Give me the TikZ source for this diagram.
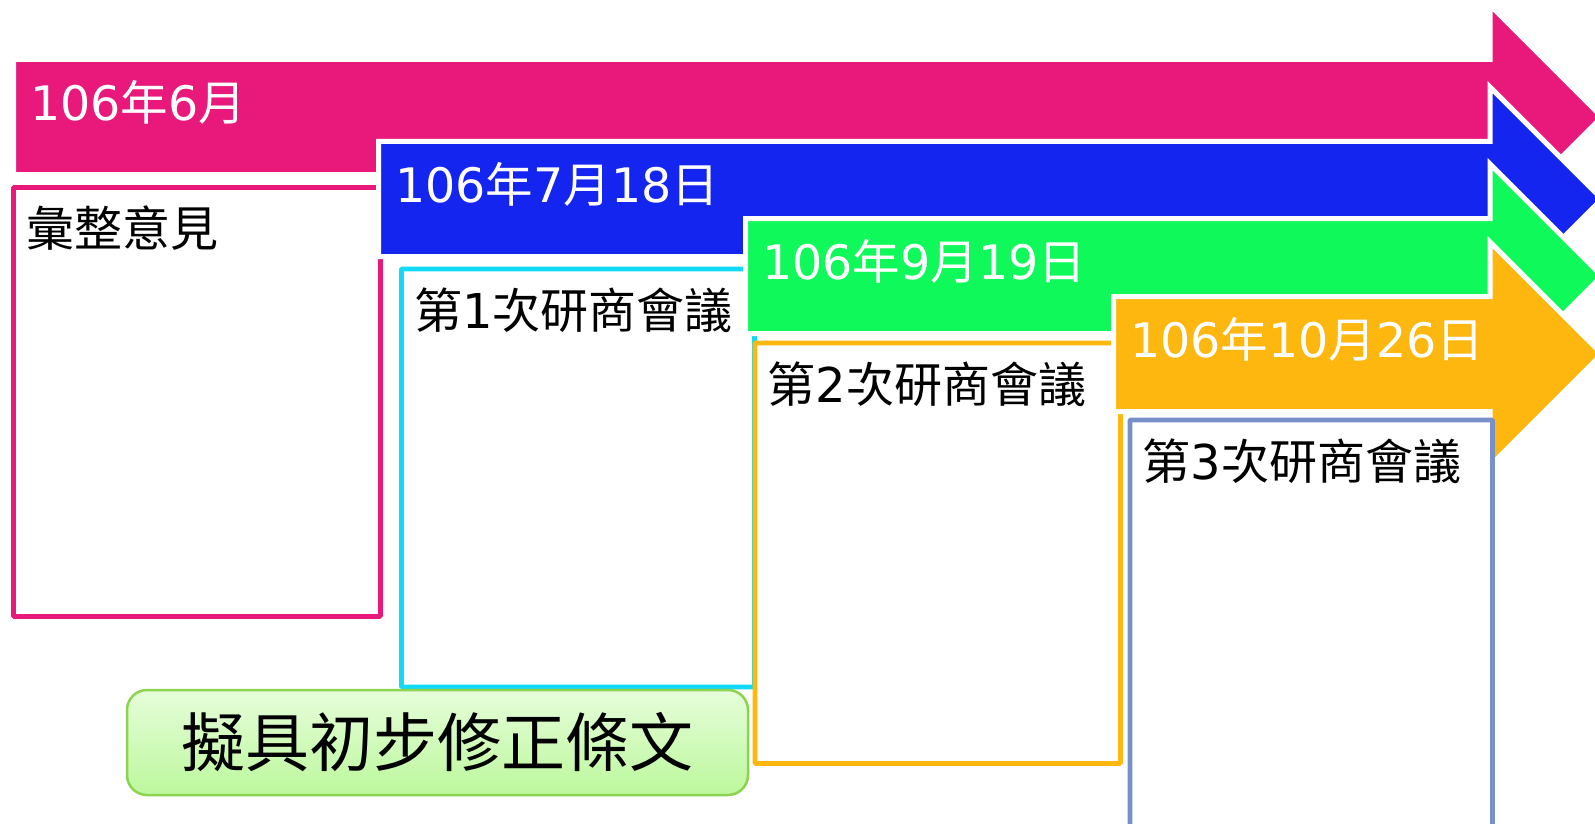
\documentclass[tikz,border=0pt]{standalone}
\usepackage{fontspec}
\setmainfont{DejaVu Sans}
\newfontfamily\cjkfont{Noto Sans CJK TC}
\newcommand{\zh}[1]{{\cjkfont #1}}
\definecolor{StepPink}{RGB}{232,25,123}
\definecolor{StepBlue}{RGB}{21,37,240}
\definecolor{StepGreen}{RGB}{16,249,91}
\definecolor{StepOrange}{RGB}{253,183,14}
\definecolor{BoxCyan}{RGB}{18,217,245}
\definecolor{BoxSlate}{RGB}{120,144,202}
\definecolor{DraftTop}{RGB}{230,253,218}
\definecolor{DraftBottom}{RGB}{188,248,156}
\definecolor{DraftLine}{RGB}{140,212,80}
\tikzset{
    steparrow/.style={draw=white, line width=5pt, line join=miter},
    stepbox/.style={draw, fill=white, line width=4.8pt, rounded corners=1pt, anchor=north west, inner sep=0pt},
    datetext/.style={anchor=base west, inner sep=0pt, text=white, font=\fontsize{47.5}{57}\selectfont},
    notetext/.style={anchor=north west, inner sep=0pt, font=\fontsize{48}{58}\selectfont},
    draftbox/.style={draw=DraftLine, line width=2.5pt, rounded corners=20pt, top color=DraftTop, bottom color=DraftBottom,
        minimum width=621pt, minimum height=105pt, inner sep=0pt, font=\fontsize{64}{70}\selectfont\cjkfont}
}
\begin{document}
\begin{tikzpicture}[x=1pt,y=-1pt]
        % Define the arrow dimensions
        \def\notchx{1490}
        \def\shafthalf{57.5}
        \def\headhalf{112}

        \useasboundingbox (0,0) rectangle (1595,824);
        \clip (0,0) rectangle (1595,824);

        % Draw each step: the arrow with its date, then the box below it
        \foreach \ax/\ay/\acol/\adate/\bx/\by/\bw/\bh/\bcol/\btxt [count=\i] in {
            13.5/117/StepPink/106\zh{年}6\zh{月}/11/185/367/429/StepPink/\zh{彙整意見},
            378.5/199/StepBlue/106\zh{年}7\zh{月}18\zh{日}/399/266.5/353/418/BoxCyan/\zh{第}1\zh{次研商會議},
            745.5/276/StepGreen/106\zh{年}9\zh{月}19\zh{日}/752.5/340.5/365.5/420.5/StepOrange/\zh{第}2\zh{次研商會議},
            1113.5/354/StepOrange/106\zh{年}10\zh{月}26\zh{日}/1127.5/417.5/362.5/412/BoxSlate/\zh{第}3\zh{次研商會議}} {
            \draw[steparrow, fill=\acol] (\ax,\ay-\shafthalf) -- (\notchx,\ay-\shafthalf) -- (\notchx,\ay-\headhalf)
                -- (\notchx+\headhalf,\ay) -- (\notchx,\ay+\headhalf) -- (\notchx,\ay+\shafthalf) -- (\ax,\ay+\shafthalf) -- cycle;
            \node[datetext] (date\i) at (\ax+16.5,\ay+3.5) {\adate};
            \node[stepbox, draw=\bcol, minimum width=\bw pt, minimum height=\bh pt] (box\i) at (\bx,\by) {};
            \node[notetext] (note\i) at ([shift={(15,21)}]box\i.north west) {\btxt};
        }

        % Add the draft box at the bottom
        \node[draftbox] (draft) at (437.5,742.5) {擬具初步修正條文};
    \end{tikzpicture}
\end{document}
